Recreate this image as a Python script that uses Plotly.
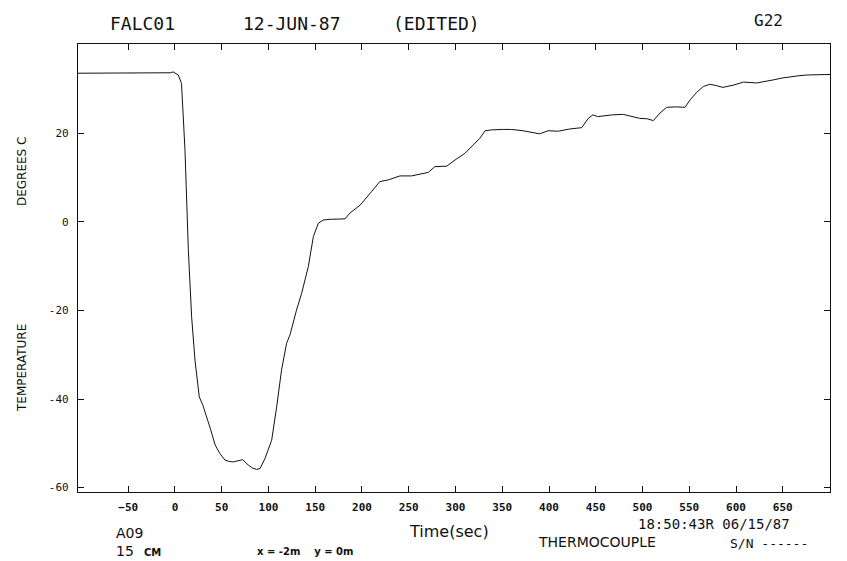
import plotly.graph_objects as go

# ---- data ----
time_s = [-104, -60, -20, -5, -2, 3.5, 7, 10.7, 14.3, 17.8, 21.4, 26, 30, 34, 38, 43, 48,
          53.5, 58, 62.4, 67, 72.4, 78.4, 83, 87.4, 91, 96.3, 103.4, 108.8, 114, 119.4,
          123, 130, 135.5, 142.6, 148, 153.3, 158.6, 166, 173, 181.9, 187, 198, 210,
          219, 228, 240.6, 253, 262, 271, 278, 290.6, 299.5, 310, 319, 326, 331.6,
          338.7, 350, 360, 372.5, 381, 390, 399, 410, 422, 435, 442, 447, 452, 458,
          468, 479.5, 488, 497, 505, 511.6, 518.7, 525.8, 536.6, 545.5, 551, 558, 565,
          572, 579, 586, 597, 608, 622, 631, 640, 649, 657.8, 666, 675.6, 685, 695, 703]
temp_c = [33.6, 33.6, 33.7, 33.7, 33.9, 33.2, 31.3, 16.3, -6.3, -21.4, -31.2, -39.5, -41.5,
          -44.0, -46.8, -50.4, -52.3, -53.8, -54.1, -54.2, -54.0, -53.7, -54.9, -55.6,
          -55.9, -55.7, -53.4, -49.3, -41.7, -33.4, -27.4, -25.5, -19.9, -16.1, -10.1,
          -3.3, -0.3, 0.45, 0.6, 0.7, 0.7, 2.0, 3.8, 6.8, 9.1, 9.5, 10.4, 10.4, 10.8,
          11.2, 12.5, 12.6, 14.0, 15.5, 17.4, 18.9, 20.6, 20.8, 20.9, 20.9, 20.6, 20.2,
          19.9, 20.6, 20.5, 21.0, 21.3, 23.4, 24.2, 23.8, 24.0, 24.2, 24.3, 23.9, 23.4,
          23.3, 22.9, 24.6, 25.9, 26.0, 25.9, 27.6, 29.3, 30.6, 31.1, 30.8, 30.4, 30.9,
          31.6, 31.4, 31.7, 32.1, 32.5, 32.8, 33.0, 33.2, 33.3, 33.3, 33.3]

x_ticks = [-50, 0, 50, 100, 150, 200, 250, 300, 350, 400, 450, 500, 550, 600, 650]
y_ticks = [-60, -40, -20, 0, 20]
y_tick_labels = ["-60", "-40", "-20", "0", "20"]

# page body has an 8px margin: build the figure 8px smaller and offset positions
OFF = 8
W, H = 847 - OFF, 561 - OFF
L, R, T, B = 78 - OFF, 830 - OFF, 44 - OFF, 492 - OFF


def px(x, y):
    x -= OFF
    y -= OFF
    return (x - L) / (R - L), (B - y) / (B - T)


fig = go.Figure()
fig.add_trace(go.Scatter(x=time_s, y=temp_c, mode="lines",
                         line=dict(color="#111", width=1), showlegend=False))

axis_common = dict(showline=True, linecolor="#111", linewidth=1.2, mirror="ticks",
                   ticks="inside", ticklen=6, tickcolor="#111", showgrid=False,
                   zeroline=False)
fig.update_xaxes(range=[-103.7, 700.5], tickvals=x_ticks,
                 tickfont=dict(family="DejaVu Sans Mono", size=11, color="#111",
                               weight="bold"),
                 ticklabelstandoff=5, **axis_common)
fig.update_yaxes(range=[-61.0, 40.2], tickvals=y_ticks, ticktext=y_tick_labels,
                 tickfont=dict(family="DejaVu Sans Mono", size=11, color="#111"),
                 ticklabelstandoff=6, **axis_common)

ann = []


def add(text, x, y, size, xanchor="left", angle=0, family="DejaVu Sans", weight="normal"):
    xp, yp = px(x, y)
    ann.append(dict(text=text, x=xp, y=yp, xref="paper", yref="paper", showarrow=False,
                    xanchor=xanchor, yanchor="middle", textangle=angle,
                    font=dict(family=family, size=size, color="#111", weight=weight)))


add("FALC01", 108, 24, 18, family="DejaVu Sans Mono")
add("12-JUN-87", 241, 24, 18, family="DejaVu Sans Mono")
add("(EDITED)", 391, 24, 18, family="DejaVu Sans Mono")
add("G22", 752, 21, 16, family="DejaVu Sans Mono")
add("DEGREES C", 22, 172, 12, xanchor="center", angle=-90)
add("TEMPERATURE", 22, 368, 12, xanchor="center", angle=-90)
add("Time(sec)", 449, 531, 16, xanchor="center")
add("A09", 114, 533, 14)
add("15", 114, 551, 14)
add("CM", 142, 552, 10, weight="bold")
add("x = -2m    y = 0m", 255, 551, 10, weight="bold")
add("18:50:43R 06/15/87", 636, 524, 14, family="DejaVu Sans Mono")
add("THERMOCOUPLE", 536, 542, 14)
add("S/N ------", 728, 543, 13, family="DejaVu Sans Mono")

fig.update_layout(width=W, height=H, margin=dict(l=L, r=W - R, t=T, b=H - B),
                  paper_bgcolor="white", plot_bgcolor="white", annotations=ann)

fig.write_html("out.html")
